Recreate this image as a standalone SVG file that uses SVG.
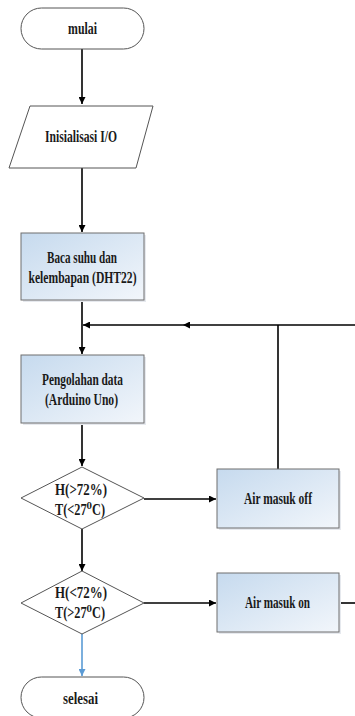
<svg xmlns="http://www.w3.org/2000/svg" width="355" height="716" viewBox="0 0 355 716">
<style>
.t{font-family:"Liberation Serif","Times New Roman","DejaVu Serif",serif;font-weight:bold;font-size:17px;fill:#1a1a1a;text-anchor:middle}
.term{fill:#fff;stroke:#555;stroke-width:1}
.box{fill:url(#g);stroke:#6f6f6f;stroke-width:1}
.sh{fill:#e6e9ee}
.io{fill:#fff;stroke:#555;stroke-width:1}
.dia{fill:#fff;stroke:#555;stroke-width:1}
.c{fill:none;stroke:#000;stroke-width:1.6}
.cb{fill:none;stroke:#5b9bd5;stroke-width:1.6}
</style>
<defs>
<linearGradient id="g" x1="0" y1="0" x2="1" y2="1">
<stop offset="0" stop-color="#c6daee"/>
<stop offset="1" stop-color="#f2f6fb"/>
</linearGradient>
<marker id="a" viewBox="0 0 10 10" refX="10" refY="5" markerWidth="7" markerHeight="7" markerUnits="userSpaceOnUse" orient="auto">
<path d="M0,0 L10,5 L0,10 z" fill="#000"/>
</marker>
<marker id="ab" viewBox="0 0 10 10" refX="10" refY="5" markerWidth="7" markerHeight="7" markerUnits="userSpaceOnUse" orient="auto">
<path d="M0,0 L10,5 L0,10 z" fill="#5b9bd5"/>
</marker>
</defs>
<rect width="355" height="716" fill="#fff"/>
<g id="connectors">
<path class="c" d="M82,49 V104" marker-end="url(#a)"/>
<path class="c" d="M82,168 V232" marker-end="url(#a)"/>
<path class="c" d="M82,300 V354" marker-end="url(#a)"/>
<path class="c" d="M355,325 H183" marker-end="url(#a)"/>
<path class="c" d="M183,325 H83" marker-end="url(#a)"/>
<path class="c" d="M278,325 V469"/>
<path class="c" d="M82,423 V466" marker-end="url(#a)"/>
<path class="c" d="M144,499 H216" marker-end="url(#a)"/>
<path class="c" d="M82,529 V571" marker-end="url(#a)"/>
<path class="c" d="M144,603 H216" marker-end="url(#a)"/>
<path class="c" d="M339,603 H355"/>
<path class="cb" d="M82,634 V676" marker-end="url(#ab)"/>
</g>
<g id="mulai">
<rect class="term" x="21" y="8" width="123" height="41" rx="20.5"/>
<text class="t" x="82.5" y="34" textLength="29" lengthAdjust="spacingAndGlyphs">mulai</text>
</g>
<g id="inisialisasi">
<polygon class="io" points="30,106 153,106 136,168 9,168"/>
<text class="t" x="81" y="142" textLength="72" lengthAdjust="spacingAndGlyphs">Inisialisasi I/O</text>
</g>
<g id="baca">
<rect class="sh" x="23" y="235" width="123" height="67"/>
<rect class="box" x="21" y="233" width="123" height="67"/>
<text class="t" x="82" y="263" textLength="70" lengthAdjust="spacingAndGlyphs">Baca suhu dan</text>
<text class="t" x="82.5" y="283" textLength="108" lengthAdjust="spacingAndGlyphs">kelembapan (DHT22)</text>
</g>
<g id="pengolahan">
<rect class="sh" x="23" y="357" width="123" height="68"/>
<rect class="box" x="21" y="355" width="123" height="68"/>
<text class="t" x="82.5" y="385" textLength="81" lengthAdjust="spacingAndGlyphs">Pengolahan data</text>
<text class="t" x="81.5" y="405" textLength="73" lengthAdjust="spacingAndGlyphs">(Arduino Uno)</text>
</g>
<g id="kondisi1">
<polygon class="dia" points="82,467 144,498 82,529 21,498"/>
<text class="t" x="81" y="495" textLength="52" lengthAdjust="spacingAndGlyphs">H(&gt;72%)</text>
<text class="t" x="80" y="515" textLength="50" lengthAdjust="spacingAndGlyphs">T(&lt;27⁰C)</text>
</g>
<g id="airoff">
<rect class="sh" x="219" y="471" width="122" height="59"/>
<rect class="box" x="217" y="469" width="122" height="59"/>
<text class="t" x="278" y="504" textLength="68" lengthAdjust="spacingAndGlyphs">Air masuk off</text>
</g>
<g id="kondisi2">
<polygon class="dia" points="82,571 144,603 82,634 21,603"/>
<text class="t" x="81" y="598" textLength="52" lengthAdjust="spacingAndGlyphs">H(&lt;72%)</text>
<text class="t" x="80" y="618" textLength="50" lengthAdjust="spacingAndGlyphs">T(&gt;27⁰C)</text>
</g>
<g id="airon">
<rect class="sh" x="219" y="575" width="122" height="59"/>
<rect class="box" x="217" y="573" width="122" height="59"/>
<text class="t" x="277.5" y="608" textLength="65" lengthAdjust="spacingAndGlyphs">Air masuk on</text>
</g>
<g id="selesai">
<rect class="term" x="21" y="677" width="123" height="41" rx="20.5"/>
<text class="t" x="80.5" y="704" textLength="35" lengthAdjust="spacingAndGlyphs">selesai</text>
</g>
</svg>
